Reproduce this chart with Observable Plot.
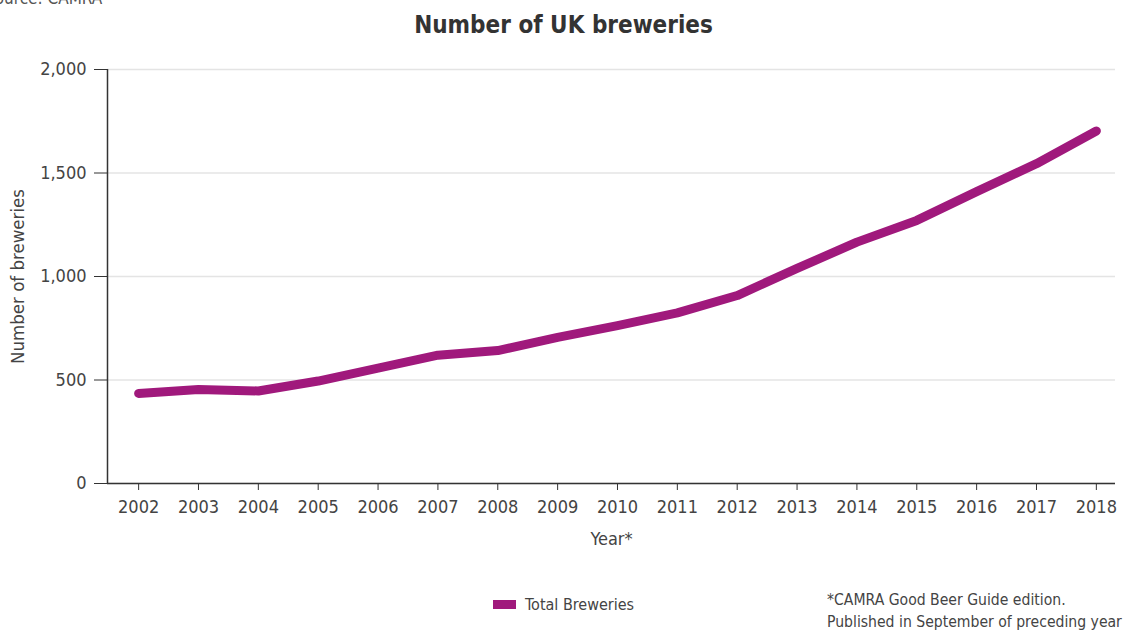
<!DOCTYPE html>
<html>
<head>
<meta charset="utf-8">
<script src="https://cdn.jsdelivr.net/npm/d3@7"></script>
<script src="https://cdn.jsdelivr.net/npm/@observablehq/plot@0.6"></script>
<style>
  html, body { margin: 0; padding: 0; background: #fff; }
  body { width: 1137px; height: 632px; overflow: hidden; position: relative;
         font-family: "DejaVu Sans Condensed", "DejaVu Sans", sans-serif; font-stretch: condensed; color: #444; }
  #source { position: absolute; left: -15px; top: -12px; font-size: 17px; color: #555; white-space: nowrap; }
  #title { position: absolute; left: 0; width: 1127px; top: 11px; text-align: center; font-size: 24px; font-weight: bold; color: #333; }
  #chart { position: absolute; left: 0; top: 0; }
  #legend { position: absolute; left: 493px; top: 595px; font-size: 16px; color: #444; display: flex; align-items: center; }
  #legend .sw { width: 23px; height: 9px; background: #a0197c; margin-right: 9px; }
  #caption { position: absolute; left: 827px; top: 589px; font-size: 15.6px; line-height: 22px; color: #444; white-space: nowrap; }
</style>
</head>
<body>
<div id="source">Source: CAMRA</div>
<div id="title">Number of UK breweries</div>
<div id="chart"></div>
<div id="legend"><div class="sw"></div><span>Total Breweries</span></div>
<div id="caption">*CAMRA Good Beer Guide edition.<br>Published in September of preceding year</div>
<script>
const years = [2002, 2003, 2004, 2005, 2006, 2007, 2008, 2009, 2010, 2011, 2012, 2013, 2014, 2015, 2016, 2017, 2018];
const breweries = [435, 454, 447, 495, 557, 620, 642, 706, 763, 824, 908, 1039, 1166, 1271, 1410, 1545, 1703];
const yTicks = [0, 500, 1000, 1500, 2000];
const seriesName = "Total Breweries";

const data = years.map((y, i) => ({year: y, value: breweries[i], series: seriesName}));
const xDomain = [2001.48, 2018.32];
const lineColor = "#a0197c";
const fontFam = "'DejaVu Sans Condensed', 'DejaVu Sans', sans-serif";

const chart = Plot.plot({
  width: 1137,
  height: 632,
  marginLeft: 107,
  marginRight: 22,
  marginTop: 69,
  marginBottom: 149,
  style: {fontFamily: fontFam, fontSize: "18px", color: "#444", background: "transparent", fontStretch: "condensed"},
  x: {domain: xDomain},
  y: {domain: [0, 2000]},
  marks: [
    Plot.gridY(yTicks, {stroke: "#e4e4e4", strokeOpacity: 1, strokeWidth: 1.5}),
    Plot.axisY({ticks: yTicks, tickSize: 13, tickPadding: 8, tickFormat: d3.format(","), label: null, stroke: "#333"}),
    Plot.axisX({ticks: years, tickSize: 7, tickPadding: 10, tickFormat: d => String(d), label: null, stroke: "#333"}),
    Plot.ruleX([xDomain[0]], {y1: 0, y2: 2000, stroke: "#333", strokeWidth: 1.5}),
    Plot.ruleY([0], {stroke: "#333", strokeWidth: 1.5}),
    Plot.line(data, {x: "year", y: "value", stroke: lineColor, strokeWidth: 9, strokeLinecap: "round", strokeLinejoin: "round"}),
    Plot.text(["Year*"], {frameAnchor: "bottom", dy: 61, fontSize: 18, fill: "#444"}),
    Plot.text(["Number of breweries"], {frameAnchor: "left", textAnchor: "middle", dx: -89, rotate: -90, fontSize: 18.5, fill: "#444"})
  ]
});
document.getElementById("chart").appendChild(chart);
</script>
</body>
</html>
